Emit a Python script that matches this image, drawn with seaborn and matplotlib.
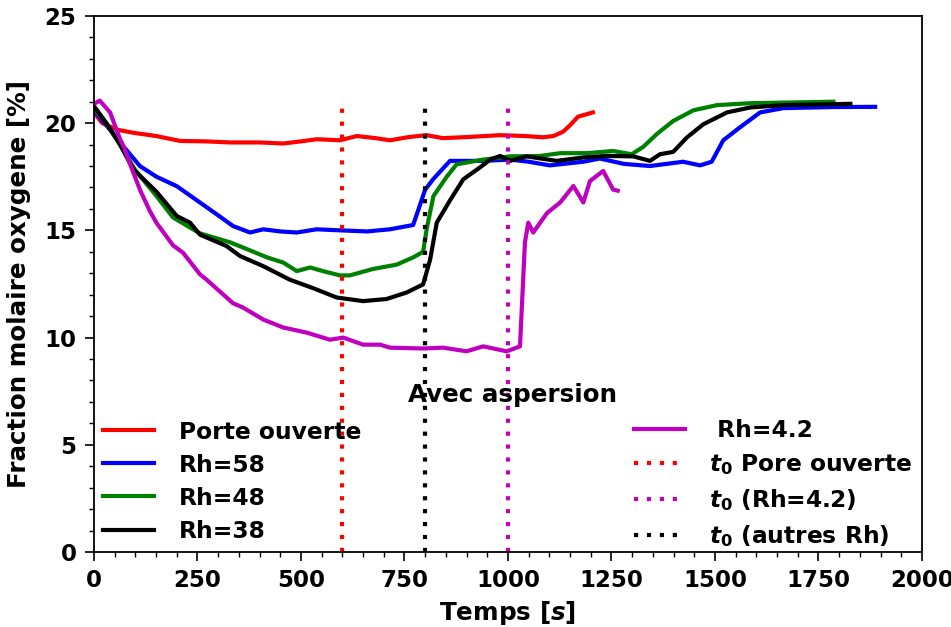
import matplotlib
matplotlib.use("Agg")
import matplotlib.pyplot as plt
import seaborn as sns
import pandas as pd

# --- measured O2 molar fraction [%] versus time [s] ---
t_porte = [0, 20, 55, 95, 150, 208, 270, 329, 400, 457, 500, 538, 594, 635, 680, 715,
           760, 803, 843, 900, 981, 1040, 1085, 1110, 1133, 1150, 1169, 1205]
v_porte = [20.5, 20.0, 19.7, 19.55, 19.4, 19.17, 19.15, 19.1, 19.1, 19.05, 19.15, 19.25,
           19.2, 19.4, 19.3, 19.2, 19.35, 19.44, 19.3, 19.35, 19.44, 19.4, 19.34, 19.4,
           19.6, 19.9, 20.3, 20.5]

t_rh58 = [0, 30, 63, 111, 151, 200, 256, 300, 336, 377, 409, 450, 490, 538, 594, 660,
          715, 771, 800, 820, 860, 940, 1005, 1050, 1101, 1182, 1222, 1280, 1343, 1423,
          1464, 1492, 1520, 1560, 1609, 1665, 1786, 1887]
v_rh58 = [20.6, 19.9, 19.1, 18.0, 17.5, 17.06, 16.3, 15.7, 15.2, 14.9, 15.05, 14.95,
          14.9, 15.05, 15.0, 14.95, 15.05, 15.25, 16.9, 17.4, 18.24, 18.24, 18.3, 18.2,
          18.03, 18.2, 18.35, 18.1, 18.0, 18.2, 18.03, 18.2, 19.2, 19.8, 20.5, 20.7,
          20.75, 20.76]

t_rh48 = [0, 30, 63, 100, 151, 191, 256, 329, 360, 418, 457, 490, 522, 553, 594, 618,
          674, 731, 771, 795, 804, 820, 852, 876, 940, 1005, 1077, 1126, 1190, 1254,
          1299, 1327, 1360, 1399, 1448, 1505, 1585, 1786]
v_rh48 = [20.7, 20.0, 19.0, 17.8, 16.6, 15.6, 14.86, 14.44, 14.2, 13.74, 13.5, 13.1,
          13.27, 13.1, 12.9, 12.9, 13.2, 13.4, 13.74, 14.0, 15.1, 16.6, 17.5, 18.08,
          18.3, 18.45, 18.47, 18.6, 18.6, 18.7, 18.55, 18.9, 19.5, 20.1, 20.6, 20.84,
          20.93, 21.0]

t_rh38 = [0, 30, 63, 95, 151, 200, 232, 256, 320, 353, 409, 473, 530, 586, 650, 707,
          755, 795, 812, 828, 860, 892, 932, 957, 981, 1005, 1045, 1118, 1182, 1239,
          1303, 1343, 1367, 1399, 1432, 1472, 1529, 1585, 1665, 1827]
v_rh38 = [20.8, 20.0, 19.0, 17.85, 16.8, 15.67, 15.36, 14.8, 14.27, 13.8, 13.33, 12.7,
          12.3, 11.87, 11.7, 11.8, 12.1, 12.48, 13.64, 15.36, 16.4, 17.38, 17.93, 18.3,
          18.47, 18.24, 18.45, 18.24, 18.4, 18.47, 18.45, 18.24, 18.55, 18.66, 19.33,
          19.95, 20.5, 20.73, 20.84, 20.9]

t_rh42 = [0, 14, 39, 63, 71, 95, 111, 135, 151, 191, 215, 256, 272, 336, 360, 409, 457,
          514, 570, 602, 650, 691, 715, 795, 843, 900, 940, 997, 1029, 1041, 1049, 1061,
          1094, 1126, 1158, 1182, 1198, 1230, 1254, 1265]
v_rh42 = [20.9, 21.05, 20.5, 19.25, 18.94, 17.7, 16.9, 15.9, 15.35, 14.3, 13.96, 12.95,
          12.7, 11.6, 11.4, 10.84, 10.47, 10.23, 9.9, 10.0, 9.67, 9.67, 9.53, 9.49, 9.53,
          9.36, 9.59, 9.36, 9.59, 14.44, 15.36, 14.9, 15.8, 16.3, 17.07, 16.3, 17.3,
          17.77, 16.9, 16.85]

series_labels = ["Porte ouverte", "Rh=58", "Rh=48", "Rh=38", " Rh=4.2"]
series_t = [t_porte, t_rh58, t_rh48, t_rh38, t_rh42]
series_v = [v_porte, v_rh58, v_rh48, v_rh38, v_rh42]
series_colors = ["r", "b", "g", "k", "m"]

# start of spraying (t0) markers
t0_labels = [r"$t_0$ Pore ouverte", r"$t_0$ (Rh=4.2)", r"$t_0$ (autres Rh)"]
t0_times = [600, 1000, 800]
t0_colors = ["r", "m", "k"]
t0_top = 21.0

plt.rcParams.update({
    "font.family": "DejaVu Sans",
    "font.weight": "bold",
    "axes.labelweight": "bold",
    "mathtext.fontset": "custom",
    "mathtext.it": "DejaVu Sans:italic:bold",
    "mathtext.rm": "DejaVu Sans:bold",
    "mathtext.bf": "DejaVu Sans:bold",
    "lines.dash_capstyle": "butt",
})

TICK_FS = 16.5
LEG_FS = 16.8
LAB_FS = 17.7
DOTS = (0, (1, 2.1))

fig = plt.figure(figsize=(9.51, 6.27), dpi=100)
ax = fig.add_axes([0.0988, 0.1196, 0.8707, 0.855])

handles = []
for lab, tt, vv, col in zip(series_labels, series_t, series_v, series_colors):
    df = pd.DataFrame({"t": tt, "v": vv})
    sns.lineplot(data=df, x="t", y="v", ax=ax, color=col, lw=3,
                 estimator=None, sort=False, label=lab, legend=False)
    handles.append(ax.lines[-1])

t0_handles = []
for lab, tx, col in zip(t0_labels, t0_times, t0_colors):
    df = pd.DataFrame({"t": [tx, tx], "v": [0, t0_top]})
    sns.lineplot(data=df, x="t", y="v", ax=ax, color=col, lw=3, linestyle=DOTS,
                 estimator=None, sort=False, label=lab, legend=False)
    t0_handles.append(ax.lines[-1])

ax.text(1010, 7.3, "Avec aspersion", ha="center", va="center",
        fontsize=LAB_FS, fontweight="bold")

ax.set_xlim(0, 2000)
ax.set_ylim(0, 25)
ax.set_xticks([0, 250, 500, 750, 1000, 1250, 1500, 1750, 2000])
ax.set_yticks([0, 5, 10, 15, 20, 25])
ax.xaxis.set_minor_locator(matplotlib.ticker.MultipleLocator(50))
ax.yaxis.set_minor_locator(matplotlib.ticker.MultipleLocator(1))
ax.tick_params(which="major", direction="out", length=6.5, width=1.2,
               labelsize=TICK_FS, pad=6)
ax.tick_params(which="minor", direction="out", length=3.5, width=1.0)
ax.tick_params(top=False, right=False, which="both")
for sp in ax.spines.values():
    sp.set_linewidth(1.3)
ax.set_xlabel("Temps [$s$]", fontsize=LAB_FS, fontweight="bold", labelpad=5)
ax.set_ylabel("Fraction molaire oxygene [%]", fontsize=LAB_FS, fontweight="bold",
              labelpad=10)

leg_kw = dict(frameon=False, handlelength=2.18, handletextpad=1.06,
              labelspacing=0.43, borderaxespad=0.0,
              prop={"weight": "bold", "size": LEG_FS})
leg1 = ax.legend(handles=handles[:4], labels=series_labels[:4], loc="lower left", **leg_kw)
ax.add_artist(leg1)
ax.legend(handles=[handles[4]] + t0_handles, labels=[series_labels[4]] + t0_labels,
          loc="lower right", bbox_to_anchor=(1.0, -0.012), **leg_kw)

fig.savefig("out.png", dpi=100)
